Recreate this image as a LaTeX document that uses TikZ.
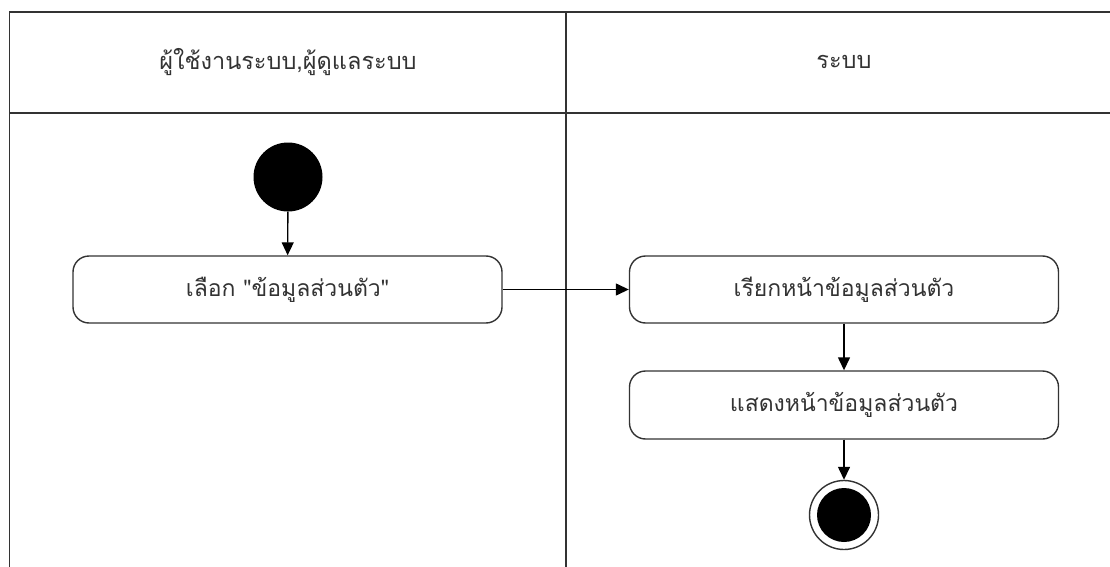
\documentclass[tikz,border=0pt]{standalone}
\usepackage{fontspec}
\newfontfamily\thaifont[Script=Thai]{Loma}
\usetikzlibrary{arrows.meta}
\definecolor{ink}{HTML}{333333}
\begin{document}
\begin{tikzpicture}[x=1pt,y=-1pt,
  lane/.style={draw=ink,line width=1.8pt},
  act/.style={draw=ink,line width=1.4pt,rounded corners=16pt,minimum width=429pt,minimum height=67pt,inner sep=0pt,font=\thaifont\fontsize{23}{27}\selectfont,text=ink},
  hdr/.style={font=\thaifont\fontsize{23.5}{27}\selectfont,text=ink},
  flow/.style={draw=black,line width=1.4pt,-{Triangle[length=13pt,width=12pt]}}]
\useasboundingbox (0,0) rectangle (1110,567);
% swimlane frame
\draw[lane] (9.5,567) -- (9.5,12) -- (1110,12);
\draw[lane] (9.5,113) -- (1110,113);
\draw[lane] (566,12) -- (566,567);
\node[hdr] (h1) at (288,62) {ผู้ใช้งานระบบ,ผู้ดูแลระบบ};
\node[hdr] (h2) at (844,62) {ระบบ};
% nodes
\node[circle,fill=black,minimum size=69pt,inner sep=0pt] (start) at (288,177) {};
\node[act] (a1) at (287.5,289.5) {เลือก "ข้อมูลส่วนตัว"};
\node[act] (a2) at (844,289.5) {เรียกหน้าข้อมูลส่วนตัว};
\node[act,minimum height=68pt] (a3) at (844,405) {แสดงหน้าข้อมูลส่วนตัว};
\node[circle,draw=ink,line width=1.4pt,fill=white,minimum size=69pt,inner sep=0pt] (end) at (844,515) {};
\fill[black] (end.center) circle (27pt);
% connectors
\draw[flow] (start) -- (a1);
\draw[flow] (a1) -- (a2);
\draw[flow] (a2) -- (a3);
\draw[flow] (a3) -- (end);
\end{tikzpicture}
\end{document}
